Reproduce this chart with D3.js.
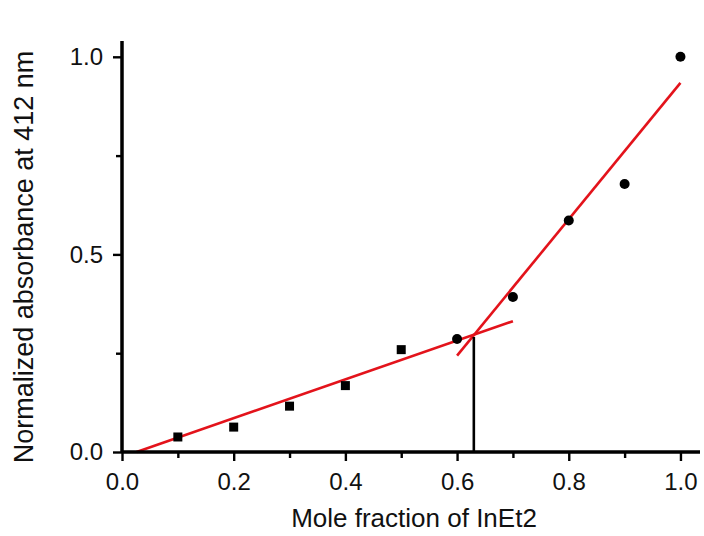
<!DOCTYPE html>
<html>
<head>
<meta charset="utf-8">
<script src="https://cdn.jsdelivr.net/npm/d3@7"></script>
<style>
  body { margin: 0; background: #fff; }
  svg text { font-family: "Liberation Sans", Arial, sans-serif; fill: #111; }
</style>
</head>
<body>
<svg id="chart" width="704" height="536"></svg>
<script>
// data
const squareX = [0.1, 0.2, 0.3, 0.4, 0.5];
const squareY = [0.038, 0.063, 0.116, 0.168, 0.259];
const circleX = [0.6, 0.7, 0.8, 0.9, 1.0];
const circleY = [0.286, 0.392, 0.586, 0.678, 1.0];
// linear fits, drawn as segments [x0, y0, x1, y1]
const fitLow = [0.026, 0.0, 0.70, 0.331];
const fitHigh = [0.60, 0.244, 1.0, 0.934];
// intersection drop line
const dropX = 0.630;
const dropTop = 0.291;

const xMajor = [0, 0.2, 0.4, 0.6, 0.8, 1.0];
const xMinor = [0.1, 0.3, 0.5, 0.7, 0.9];
const yMajor = [0, 0.5, 1.0];
const yMinor = [0.25, 0.75];

const svg = d3.select("#chart");
const x = d3.scaleLinear().domain([0, 1.035]).range([122, 700]);
const y = d3.scaleLinear().domain([0, 1.04]).range([452, 41]);

// fit lines
const red = "#e3131b";
[fitLow, fitHigh].forEach(f => {
  svg.append("line")
    .attr("x1", x(f[0])).attr("y1", y(f[1]))
    .attr("x2", x(f[2])).attr("y2", y(f[3]))
    .attr("stroke", red)
    .attr("stroke-width", 2.6);
});

svg.append("line")
  .attr("x1", x(dropX)).attr("x2", x(dropX))
  .attr("y1", y(0)).attr("y2", y(dropTop))
  .attr("stroke", "#000")
  .attr("stroke-width", 2.6);

// points
svg.selectAll(".sq")
  .data(squareX.map((v, i) => [v, squareY[i]]))
  .enter().append("rect")
  .attr("class", "sq")
  .attr("x", d => x(d[0]) - 4.5)
  .attr("y", d => y(d[1]) - 4.5)
  .attr("width", 9)
  .attr("height", 9)
  .attr("fill", "#000");

svg.selectAll(".ci")
  .data(circleX.map((v, i) => [v, circleY[i]]))
  .enter().append("circle")
  .attr("class", "ci")
  .attr("cx", d => x(d[0]))
  .attr("cy", d => y(d[1]))
  .attr("r", 5)
  .attr("fill", "#000");

// axes
const xAxis = svg.append("g")
  .attr("transform", `translate(0,${y(0)})`)
  .call(d3.axisBottom(x).tickValues(xMajor).tickSize(9).tickPadding(12).tickFormat(d3.format(".1f")));
const xMin = svg.append("g")
  .attr("transform", `translate(0,${y(0)})`)
  .call(d3.axisBottom(x).tickValues(xMinor).tickSize(6).tickFormat(""));

const yAxis = svg.append("g")
  .attr("transform", `translate(${x(0)},0)`)
  .call(d3.axisLeft(y).tickValues(yMajor).tickSize(9).tickPadding(10).tickFormat(d3.format(".1f")));
const yMin = svg.append("g")
  .attr("transform", `translate(${x(0)},0)`)
  .call(d3.axisLeft(y).tickValues(yMinor).tickSize(6).tickFormat(""));

[xAxis, xMin, yAxis, yMin].forEach(g => {
  g.select(".domain").attr("stroke", "#000").attr("stroke-width", 3)
    .attr("d", g === xAxis || g === xMin
      ? `M${x(0)},0H${x.range()[1]}`
      : `M0,${y(0)}V${y.range()[1]}`);
  g.selectAll(".tick line").attr("stroke", "#000").attr("stroke-width", 2.4);
  g.selectAll(".tick text").attr("font-size", 24).attr("fill", "#111");
});

// titles
svg.append("text")
  .attr("x", 414)
  .attr("y", 527)
  .attr("text-anchor", "middle")
  .attr("font-size", 26)
  .text("Mole fraction of InEt2");

svg.append("text")
  .attr("transform", "translate(33,257) rotate(-90)")
  .attr("text-anchor", "middle")
  .attr("font-size", 27)
  .text("Normalized absorbance at 412 nm");
</script>
</body>
</html>
